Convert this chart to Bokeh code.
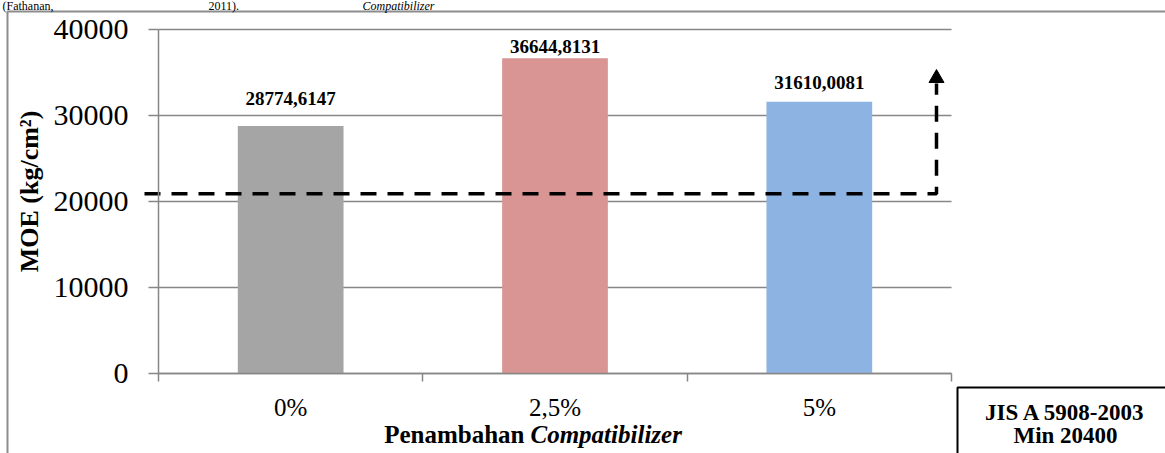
import math
from bokeh.plotting import figure
from bokeh.models import Range1d, FixedTicker, Label, Grid, ColumnDataSource
from bokeh.embed import file_html
from bokeh.resources import INLINE
from bokeh.core.properties import value

# ---------------- data ----------------
categories = ["0%", "2,5%", "5%"]
moe_values = [28774.6147, 36644.8131, 31610.0081]
y_ticks = [0, 10000, 20000, 30000, 40000]
x_title_plain = "Penambahan"
x_title_italic = "Compatibilizer"
y_title = "MOE (kg/cm\u00b2)"
standard_lines = ["JIS A 5908-2003", "Min 20400"]
threshold_drawn = 20900          # level at which the dashed marker is drawn
page_text = ["(Fathanan,", "2011).", "Compatibilizer"]

# ---------------- styles ----------------
bar_colors = ["#A5A5A5", "#D99594", "#8DB3E2"]
label_gap_px = [28, 12, 19]
FONT = "Liberation Serif"
GRID = "#878787"

# ---------------- geometry (pixels) ----------------
W, H = 1165, 453
AX_LEFT, AX_RIGHT = 158, 951
AX_ZERO, AX_TOP = 373, 29
n = len(categories)
KX = (AX_RIGHT - AX_LEFT) / n
KY = (AX_ZERO - AX_TOP) / y_ticks[-1]


def X(px):
    return (px - AX_LEFT) / KX


def Y(py):
    return (AX_ZERO - py) / KY


centers = [i + 0.5 for i in range(n)]

p = figure(width=W, height=H, output_backend="svg", toolbar_location=None,
           title=None, x_range=Range1d(X(0), X(W)), y_range=Range1d(Y(H), Y(0)),
           min_border=0, min_border_left=0, min_border_right=0,
           min_border_top=0, min_border_bottom=0)
p.outline_line_color = None
p.background_fill_color = "white"
p.border_fill_color = "white"
p.xgrid.grid_line_color = None

# y grid
p.ygrid.grid_line_color = GRID
p.ygrid.grid_line_width = 1.3
if "cross_bounds" in Grid.properties():
    p.ygrid.cross_bounds = (0, n)

# outer chart border (left + top)
p.line([X(7), X(7), X(W + 5)], [Y(H + 5), Y(11), Y(11)],
       line_color="#8C8C8C", line_width=2)

# page text above chart (kept fully visible, small)
for txt, px, style in zip(page_text, [2, 208, 362], ["normal", "normal", "italic"]):
    p.add_layout(Label(x=X(px), y=Y(5), text=txt, text_font=FONT,
                       text_font_size="12px", text_font_style=style,
                       text_color="black", text_align="left",
                       text_baseline="middle"))

# bars
src = ColumnDataSource(dict(
    x=centers, top=moe_values, color=bar_colors,
    label=[f"{v:.4f}".replace(".", ",") for v in moe_values],
    off=[-g for g in label_gap_px],
))
p.vbar(x="x", top="top", bottom=0, width=0.4, fill_color="color",
       line_color=None, source=src)
p.text(x="x", y="top", text="label", source=src, y_offset="off",
       text_font=value(FONT), text_font_style="bold", text_font_size="19px",
       text_align="center", text_baseline="alphabetic", text_color="black")

# x axis
xa = p.xaxis[0]
xa.fixed_location = 0
xa.bounds = (0, n)
xa.ticker = FixedTicker(ticks=centers, minor_ticks=list(range(n + 1)))
xa.major_label_overrides = {c: lab for c, lab in zip(centers, categories)}
xa.major_tick_out = 0
xa.major_tick_in = 0
xa.minor_tick_out = 8
xa.minor_tick_in = 0
xa.minor_tick_line_color = GRID
xa.minor_tick_line_width = 1.5
xa.axis_line_color = GRID
xa.axis_line_width = 1.5
xa.major_label_text_font = FONT
xa.major_label_text_font_size = "25px"
xa.major_label_text_color = "black"
xa.major_label_standoff = 12

# y axis
ya = p.yaxis[0]
ya.fixed_location = 0
ya.bounds = (0, y_ticks[-1])
ya.ticker = FixedTicker(ticks=y_ticks, minor_ticks=[])
ya.major_tick_out = 10
ya.major_tick_in = 0
ya.minor_tick_out = 0
ya.minor_tick_in = 0
ya.major_tick_line_color = GRID
ya.major_tick_line_width = 1.3
ya.axis_line_color = GRID
ya.axis_line_width = 1.5
ya.major_label_text_font = FONT
ya.major_label_text_font_size = "30px"
ya.major_label_text_color = "black"
ya.major_label_standoff = 20

# y axis title
p.add_layout(Label(x=X(29), y=Y(191), text=y_title, angle=math.pi / 2,
                   text_font=FONT, text_font_size="26px", text_font_style="bold",
                   text_color="black", text_align="center",
                   text_baseline="middle"))

# x axis title (mixed style)
p.add_layout(Label(x=X(524), y=Y(434), text=x_title_plain, text_font=FONT,
                   text_font_size="25px", text_font_style="bold",
                   text_color="black", text_align="right",
                   text_baseline="alphabetic"))
p.add_layout(Label(x=X(530), y=Y(434), text=x_title_italic, text_font=FONT,
                   text_font_size="25px", text_font_style="bold italic",
                   text_color="black", text_align="left",
                   text_baseline="alphabetic"))

# dashed minimum-standard marker with arrow head
p.line([X(144), X(936), X(936)], [threshold_drawn, threshold_drawn, Y(83)],
       line_color="black", line_width=3.5, line_dash="16 11")
p.scatter([X(936)], [Y(77.7)], marker="triangle", size=15,
          fill_color="black", line_color="black")

# standard box
p.quad(left=[X(957)], right=[X(W + 20)], top=[Y(387)], bottom=[Y(H + 20)],
       fill_color="white", line_color="black", line_width=2)
for txt, py in zip(standard_lines, [412, 435]):
    p.add_layout(Label(x=X(1065), y=Y(py), text=txt, text_font=FONT,
                       text_font_size="23px", text_font_style="bold",
                       text_color="black", text_align="center",
                       text_baseline="alphabetic"))

open("out.html", "w").write(file_html(p, INLINE))
